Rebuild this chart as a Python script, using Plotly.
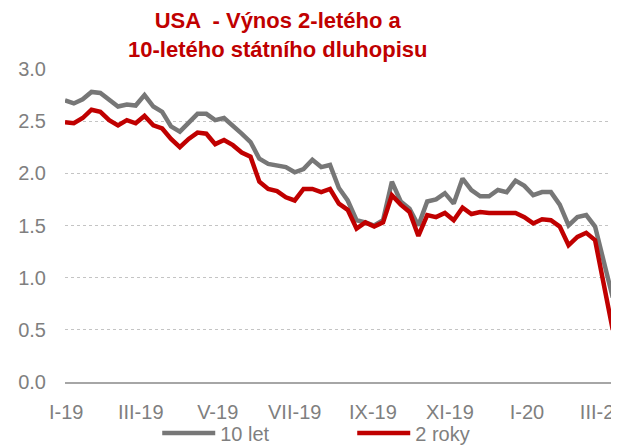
import plotly.graph_objects as go
import pandas as pd

# weekly observations, first week starting 2018-12-31
START = "2018-12-31"

yield_10y = [
    2.70, 2.67, 2.71, 2.78, 2.77, 2.70, 2.64, 2.66, 2.65, 2.75,
    2.64, 2.59, 2.45, 2.40, 2.49, 2.57, 2.57, 2.51, 2.53, 2.46,
    2.38, 2.30, 2.14, 2.09, 2.08, 2.06, 2.01, 2.04, 2.13, 2.06,
    2.08, 1.86, 1.74, 1.55, 1.53, 1.50, 1.55, 1.92, 1.73, 1.66,
    1.50, 1.73, 1.75, 1.81, 1.71, 1.95, 1.84, 1.78, 1.78, 1.84,
    1.82, 1.93, 1.88, 1.79, 1.82, 1.82, 1.70, 1.50, 1.58, 1.60,
    1.49, 1.17, 0.81,
]

yield_2y = [
    2.49, 2.48, 2.53, 2.61, 2.59, 2.51, 2.46, 2.51, 2.48, 2.55,
    2.46, 2.43, 2.33, 2.25, 2.33, 2.39, 2.38, 2.28, 2.32, 2.27,
    2.20, 2.16, 1.92, 1.85, 1.83, 1.77, 1.74, 1.85, 1.85, 1.82,
    1.85, 1.71, 1.65, 1.47, 1.53, 1.49, 1.53, 1.79, 1.70, 1.63,
    1.40, 1.60, 1.58, 1.62, 1.55, 1.67, 1.61, 1.63, 1.62, 1.62,
    1.61, 1.62, 1.58, 1.52, 1.56, 1.55, 1.49, 1.31, 1.39, 1.43,
    1.36, 0.94, 0.50,
]

tick_dates = ["2019-01-01", "2019-03-01", "2019-05-01", "2019-07-01",
              "2019-09-01", "2019-11-01", "2020-01-01", "2020-03-01"]
tick_labels = ["I-19", "III-19", "V-19", "VII-19", "IX-19", "XI-19", "I-20", "III-20"]

weeks = pd.date_range(START, periods=len(yield_10y), freq="7D")
x_dates = [d.strftime("%Y-%m-%d") for d in weeks]
x_end = (weeks[-1] + pd.Timedelta(days=1)).strftime("%Y-%m-%d")

GRAY = "#777777"
RED = "#c00000"
TEXT_GRAY = "#7f7f7f"
FONT = "Liberation Sans, Arial, sans-serif"

fig = go.Figure()
fig.add_trace(go.Scatter(x=x_dates, y=yield_10y, mode="lines", name="10 let",
                         line=dict(color=GRAY, width=4.5)))
fig.add_trace(go.Scatter(x=x_dates, y=yield_2y, mode="lines", name="2 roky",
                         line=dict(color=RED, width=4.5)))

# two-line title as an annotation so both lines stay on the page
fig.add_annotation(
    text="USA  - Výnos 2-letého a<br>10-letého státního dluhopisu",
    xref="paper", yref="paper", x=0.387, y=1.11,
    xanchor="center", yanchor="middle", showarrow=False,
    font=dict(family=FONT, size=22, color=RED, weight="bold"),
)

# the page body adds an 8px offset, margins are set to compensate
fig.update_layout(
    width=619, height=445,
    margin=dict(l=57, r=13, t=61, b=71, autoexpand=False),
    paper_bgcolor="white",
    plot_bgcolor="white",
    xaxis=dict(
        type="date",
        range=[x_dates[0], x_end],
        tickvals=tick_dates, ticktext=tick_labels,
        showgrid=False,
        showline=True, linecolor="#a6a6a6", linewidth=2,
        ticks="outside", ticklen=11, tickcolor="rgba(0,0,0,0)",
        tickfont=dict(family=FONT, size=20, color=TEXT_GRAY),
        automargin=False,
    ),
    yaxis=dict(
        range=[0, 3.0], dtick=0.5, tickformat=".1f",
        showgrid=True, gridcolor="#c4c4c4", griddash="dot", gridwidth=1,
        zeroline=False,
        ticks="outside", ticklen=14, tickcolor="rgba(0,0,0,0)",
        tickfont=dict(family=FONT, size=20, color=TEXT_GRAY),
        automargin=False,
    ),
    legend=dict(
        orientation="h", x=0.168, xanchor="left", y=-0.163, yanchor="middle",
        font=dict(family=FONT, size=20, color=TEXT_GRAY),
        bgcolor="rgba(0,0,0,0)",
        entrywidth=127, itemwidth=53,
    ),
    showlegend=True,
)

fig.write_html("out.html")
